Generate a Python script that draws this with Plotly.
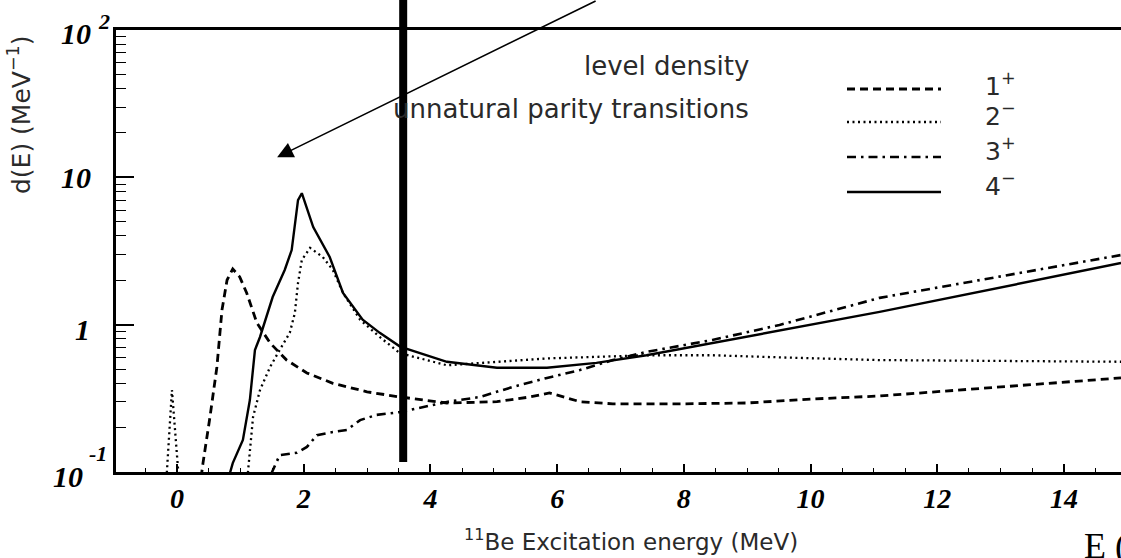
import math
import plotly.graph_objects as go

# ---------------- data ----------------
# 1+ (dashed)
E_1p = [0.30, 0.39, 0.41, 0.52, 0.63, 0.71, 0.79, 0.88, 0.99, 1.10, 1.26, 1.47, 1.73,
        2.05, 2.46, 3.00, 3.52, 4.26, 5.05, 5.57, 5.88, 6.36, 6.88, 7.93, 8.99, 10.03,
        11.09, 14.9]
d_1p = [0.05, 0.10, 0.115, 0.236, 0.517, 1.26, 2.01, 2.39, 2.11, 1.64, 1.03, 0.75, 0.575,
        0.47, 0.40, 0.35, 0.323, 0.294, 0.30, 0.323, 0.344, 0.30, 0.29, 0.29, 0.294, 0.313,
        0.328, 0.435]
# 2- (dotted)
E_2m = [-0.25, -0.16, -0.08, 0.02, 0.10, 1.05, 1.12, 1.20, 1.31, 1.47, 1.62, 1.78, 1.86,
        1.91, 1.97, 2.10, 2.30, 2.46, 2.62, 2.89, 3.20, 3.52, 4.26, 5.05, 5.84, 7.41, 8.45,
        9.51, 11.09, 14.9]
d_2m = [0.05, 0.10, 0.36, 0.10, 0.05, 0.05, 0.10, 0.236, 0.36, 0.517, 0.673, 0.88, 1.20,
        1.92, 2.75, 3.32, 2.88, 2.35, 1.64, 1.08, 0.825, 0.64, 0.53, 0.56, 0.59, 0.62, 0.62,
        0.60, 0.575, 0.56]
# 3+ (dash-dot)
E_3p = [1.40, 1.50, 1.62, 1.89, 2.05, 2.21, 2.46, 2.68, 2.89, 3.15, 3.52, 4.26, 4.78,
        5.30, 5.84, 6.36, 6.88, 7.41, 8.45, 9.51, 11.09, 14.9]
d_3p = [0.05, 0.10, 0.13, 0.135, 0.148, 0.178, 0.187, 0.193, 0.225, 0.244, 0.255, 0.299,
        0.323, 0.378, 0.435, 0.492, 0.575, 0.653, 0.787, 0.995, 1.52, 2.97]
# 4- (solid)
E_4m = [0.75, 0.84, 0.88, 1.04, 1.15, 1.23, 1.31, 1.51, 1.70, 1.81, 1.91, 1.97, 2.15,
        2.41, 2.62, 2.93, 3.20, 3.52, 4.26, 5.05, 5.84, 6.62, 7.41, 8.45, 9.51, 11.09, 14.9]
d_4m = [0.05, 0.10, 0.115, 0.165, 0.308, 0.673, 0.825, 1.54, 2.35, 3.21, 7.0, 7.8, 4.6,
        2.88, 1.64, 1.08, 0.88, 0.71, 0.56, 0.51, 0.51, 0.55, 0.62, 0.75, 0.92, 1.22, 2.62]

x_tick_vals = [0, 2, 4, 6, 8, 10, 12, 14]
y_tick_vals = [0.1, 1, 10, 100]
legend_labels = ["1<sup>+</sup>", "2<sup>\u2212</sup>", "3<sup>+</sup>", "4<sup>\u2212</sup>"]
marker_E = 3.57          # thick vertical marker line

# ---------------- figure geometry ----------------
W, H = 1121, 558
L, R, T, B = 116, 0, 30, 86
PW, PH = W - L - R, H - T - B


def px(x):
    return (x - L) / PW


def py(y):
    return (H - B - y) / PH


SANS = "DejaVu Sans"
SERIF = "Liberation Serif"
TXT = "#2a2a2a"

styles = [
    dict(dash="8px,5px", width=2.8),
    dict(dash="2px,3.5px", width=2.3),
    dict(dash="9px,5px,2.5px,5px", width=2.6),
    dict(dash="solid", width=2.4),
]
series = [(E_1p, d_1p), (E_2m, d_2m), (E_3p, d_3p), (E_4m, d_4m)]

fig = go.Figure()
for (xs, ys), st in zip(series, styles):
    fig.add_trace(go.Scatter(x=xs, y=ys, mode="lines", showlegend=False,
                             line=dict(color="black", width=st["width"], dash=st["dash"])))

minor_vals = [m * 10 ** k for k in (-1, 0, 1) for m in range(2, 10)]

fig.update_layout(
    width=W, height=H, autosize=False,
    margin=dict(l=L, r=R, t=T, b=B, pad=0),
    paper_bgcolor="white", plot_bgcolor="white",
    xaxis=dict(range=[-0.963, 14.9], tickvals=x_tick_vals,
               ticktext=[str(v) for v in x_tick_vals],
               ticks="inside", ticklen=8, tickwidth=1.5, tickcolor="black",
               minor=dict(dtick=0.5, ticks="inside", ticklen=4, tickwidth=1.3, tickcolor="black"),
               showline=True, linewidth=2.5, linecolor="black", mirror=True,
               showgrid=False, zeroline=False,
               tickfont=dict(family=SERIF, size=28, color="black", weight="bold", style="italic")),
    yaxis=dict(type="log", range=[-1, 2], tickvals=y_tick_vals, showticklabels=False,
               ticks="inside", ticklen=18, tickwidth=1.5, tickcolor="black",
               minor=dict(tickvals=minor_vals, ticks="inside", ticklen=10, tickwidth=1.3,
                          tickcolor="black", showgrid=False),
               showline=True, linewidth=2.5, linecolor="black", mirror=False,
               showgrid=False, zeroline=False),
)

ann = []
# y tick labels
ser = dict(family=SERIF, color="black")
ann += [
    dict(x=px(76), y=2, yref="y", text="<b><i>10</i></b>", yshift=-3, font=dict(size=30, **ser)),
    dict(x=px(104), y=2, yref="y", text="<b><i>2</i></b>", yshift=9, font=dict(size=22, **ser)),
    dict(x=px(76), y=1, yref="y", text="<b><i>10</i></b>", font=dict(size=30, **ser)),
    dict(x=px(82), y=0, yref="y", text="<b><i>1</i></b>", yshift=-5, font=dict(size=30, **ser)),
    dict(x=px(68), y=-1, yref="y", text="<b><i>10</i></b>", yshift=-4, font=dict(size=30, **ser)),
    dict(x=px(98), y=-1, yref="y", text="<b><i>-1</i></b>", yshift=19, font=dict(size=22, **ser)),
]
for a in ann:
    a.update(xref="paper", showarrow=False, xanchor="center", yanchor="middle")

# axis titles
ann.append(dict(x=px(631), y=py(540), xref="paper", yref="paper", showarrow=False,
                text="<sup>11</sup>Be Excitation energy (MeV)",
                font=dict(family=SANS, size=23, color=TXT), xanchor="center", yanchor="middle"))
ann.append(dict(x=px(20), y=py(115), xref="paper", yref="paper", showarrow=False, textangle=-90,
                text="d(E) (MeV<sup>\u22121</sup>)",
                font=dict(family=SANS, size=25, color=TXT), xanchor="center", yanchor="middle"))
# legend texts
ann.append(dict(x=px(751), y=py(66), xref="paper", yref="paper", showarrow=False,
                text="level density", font=dict(family=SANS, size=26, color=TXT),
                xanchor="right", yanchor="middle"))
ann.append(dict(x=px(751), y=py(109), xref="paper", yref="paper", showarrow=False,
                text="unnatural parity transitions", font=dict(family=SANS, size=26, color=TXT),
                xanchor="right", yanchor="middle"))
leg_y = [89, 122, 157, 192]
lab_y = [84, 115, 149, 184]
shapes = []
for lbl, ly, ty, st in zip(legend_labels, leg_y, lab_y, styles):
    ann.append(dict(x=px(983), y=py(ty), xref="paper", yref="paper", showarrow=False,
                    text=lbl, font=dict(family=SANS, size=25, color=TXT),
                    xanchor="left", yanchor="middle"))
    shapes.append(dict(type="line", xref="paper", yref="paper",
                       x0=px(847), x1=px(941), y0=py(ly), y1=py(ly),
                       line=dict(color="black", width=st["width"], dash=st["dash"])))
# stray text bottom right (cut off in the reference as well)
ann.append(dict(x=px(1082), y=py(546), xref="paper", yref="paper", showarrow=False,
                text="E (", font=dict(family=SERIF, size=36, color="black"),
                xanchor="left", yanchor="middle"))
# arrow
ann.append(dict(x=1.58, y=math.log10(13.7), xref="x", yref="y", text="", showarrow=True,
                ax=320, ay=-157, axref="pixel", ayref="pixel", arrowhead=2, arrowsize=2.0,
                arrowwidth=1.6, arrowcolor="black", standoff=0, startstandoff=0))

# thick vertical marker
shapes.append(dict(type="line", xref="x", yref="paper", x0=marker_E, x1=marker_E,
                   y0=py(462), y1=py(0), line=dict(color="black", width=8)))

fig.update_layout(annotations=ann, shapes=shapes)
fig.write_html("out.html")
